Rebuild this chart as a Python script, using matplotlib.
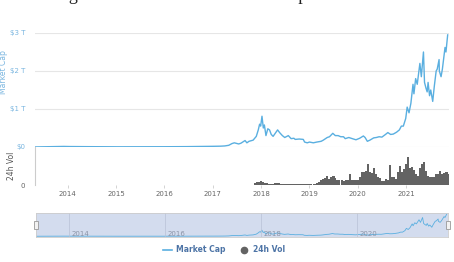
import matplotlib
matplotlib.use("Agg")
import matplotlib.pyplot as plt
import matplotlib.dates as mdates
from matplotlib.lines import Line2D
from matplotlib.patches import Rectangle
import pandas as pd

# total market cap, $ trillion
mcap_dates = [
    "2013-04-28", "2013-12-01", "2014-01-15", "2014-06-01", "2015-01-15", "2016-01-01",
    "2016-06-15", "2017-01-01", "2017-02-01", "2017-03-01", "2017-04-01", "2017-05-01",
    "2017-05-25", "2017-06-12", "2017-07-15", "2017-08-01", "2017-09-01", "2017-09-15",
    "2017-10-01", "2017-11-01", "2017-11-25", "2017-12-10", "2017-12-20", "2017-12-28",
    "2018-01-07", "2018-01-17", "2018-01-25", "2018-02-06", "2018-02-20", "2018-03-05",
    "2018-03-18", "2018-04-01", "2018-04-15", "2018-05-05", "2018-05-20", "2018-06-10",
    "2018-06-28", "2018-07-25", "2018-08-15", "2018-09-05", "2018-09-15", "2018-10-15",
    "2018-11-15", "2018-11-25", "2018-12-15", "2019-01-01", "2019-01-30", "2019-02-25",
    "2019-03-30", "2019-04-15", "2019-05-15", "2019-06-01", "2019-06-26", "2019-07-15",
    "2019-08-05", "2019-08-25", "2019-09-15", "2019-09-28", "2019-10-25", "2019-11-20",
    "2019-12-18", "2020-01-15", "2020-02-12", "2020-02-25", "2020-03-13", "2020-04-01",
    "2020-04-30", "2020-05-20", "2020-06-10", "2020-07-01", "2020-07-28", "2020-08-15",
    "2020-09-05", "2020-09-25", "2020-10-20", "2020-11-10", "2020-11-25", "2020-12-10",
    "2020-12-28", "2021-01-08", "2021-01-22", "2021-02-05", "2021-02-21", "2021-02-28",
    "2021-03-13", "2021-03-25", "2021-04-14", "2021-04-25", "2021-05-11", "2021-05-19",
    "2021-05-30", "2021-06-08", "2021-06-15", "2021-06-26", "2021-07-05", "2021-07-20",
    "2021-08-01", "2021-08-15", "2021-08-23", "2021-09-06", "2021-09-08", "2021-09-21",
    "2021-10-01", "2021-10-15", "2021-10-21", "2021-10-28", "2021-11-10",
]
mcap_vals = [
    0.0015, 0.015, 0.012, 0.009, 0.005, 0.007,
    0.010, 0.018, 0.020, 0.022, 0.028, 0.045,
    0.09, 0.11, 0.08, 0.10, 0.17, 0.11,
    0.15, 0.18, 0.28, 0.45, 0.60, 0.55,
    0.81, 0.50, 0.58, 0.30, 0.48, 0.45,
    0.33, 0.28, 0.35, 0.45, 0.38, 0.30,
    0.25, 0.30, 0.22, 0.23, 0.20, 0.21,
    0.20, 0.13, 0.11, 0.13, 0.11, 0.13,
    0.15, 0.18, 0.25, 0.27, 0.36, 0.30,
    0.30, 0.27, 0.27, 0.22, 0.25, 0.22,
    0.19, 0.23, 0.29, 0.25, 0.15, 0.18,
    0.24, 0.25, 0.27, 0.26, 0.33, 0.38,
    0.33, 0.34, 0.39, 0.45, 0.55, 0.55,
    0.75, 1.05, 0.90, 1.15, 1.65, 1.40,
    1.80, 1.65, 2.20, 1.85, 2.50, 1.70,
    1.55, 1.45, 1.70, 1.35, 1.50, 1.20,
    1.60, 2.00, 2.05, 2.30, 2.00, 1.85,
    2.05, 2.45, 2.62, 2.50, 2.95,
]

# 24h volume, $ billion, twice a month from 2017-11-15
vol_start = "2017-11-15"
vol_vals = [
    24, 42, 54, 60, 48, 36, 24, 18, 18, 18, 24, 30, 24, 18, 12, 12, 15, 12, 12, 12,
    12, 9, 9, 12, 18, 12, 12, 12, 12, 18, 18, 36, 48, 72, 96, 108, 150, 102, 120, 144,
    108, 84, 72, 72, 66, 78, 72, 180, 84, 78, 72, 84, 120, 204, 198, 216, 324, 204, 192, 270,
    180, 120, 108, 66, 60, 90, 72, 312, 132, 120, 96, 204, 300, 204, 258, 330, 444, 270, 282, 240,
    180, 150, 270, 336, 360, 228, 150, 132, 120, 120, 180, 168, 228, 180, 192, 210, 180,
]

years = ["2014", "2015", "2016", "2017", "2018", "2019", "2020", "2021"]
nav_years = ["2014", "2016", "2018", "2020"]
cap_ticks = [0, 1, 2, 3]
cap_labels = ["$0", "$1 T", "$2 T", "$3 T"]

BLUE = "#5aafe0"
GREY = "#636363"
W, H = 454, 262

fig = plt.figure(figsize=(W / 100, H / 100), dpi=100)
ax = fig.add_axes([35 / W, 1 - 147 / H, 414 / W, 114 / H])
axv = fig.add_axes([35 / W, 1 - 185 / H, 414 / W, 38 / H], sharex=ax)
axn = fig.add_axes([36 / W, 1 - 237 / H, 412 / W, 24 / H])

x_cap = pd.to_datetime(mcap_dates)
x_vol = pd.date_range(vol_start, periods=len(vol_vals), freq="SMS")
xlim = (pd.Timestamp("2013-04-28"), pd.Timestamp("2021-11-20"))

# market cap panel
ax.plot(x_cap, mcap_vals, color=BLUE, lw=1.0, zorder=3)
ax.set_ylim(0, 3.0)
ax.set_xlim(*xlim)
ax.set_yticks(cap_ticks)
ax.set_yticklabels(cap_labels)
ax.tick_params(axis="y", length=0, pad=7, labelsize=5, labelcolor="#7ab6e0")
ax.tick_params(axis="x", bottom=False, labelbottom=False)
ax.grid(axis="y", color="#e6e6e6", lw=0.8)
for s in ax.spines.values():
    s.set_visible(False)

# volume panel
axv.bar(x_vol, vol_vals, width=16, color=GREY, align="center", lw=0)
axv.set_ylim(0, 600)
axv.set_yticks([0])
axv.set_yticklabels(["0"])
axv.tick_params(axis="y", length=0, pad=7, labelsize=5, labelcolor="#666666")
axv.set_xticks(pd.to_datetime([y + "-01-01" for y in years]))
axv.xaxis.set_major_formatter(mdates.DateFormatter("%Y"))
axv.tick_params(axis="x", length=2.5, width=0.6, color="#cccccc", pad=2,
                labelsize=5, labelcolor="#666666")
for k, s in axv.spines.items():
    s.set_visible(k == "left")
axv.spines["left"].set_color("#cccccc")
axv.spines["left"].set_linewidth(0.8)

fig.text(4 / W, 1 - 72 / H, "Market Cap", rotation=90, color="#7ab6e0",
         fontsize=5.5, ha="center", va="center")
fig.text(12 / W, 1 - 166 / H, "24h Vol", rotation=90, color="#555555",
         fontsize=5.5, ha="center", va="center")

# navigator
axn.set_facecolor("#d3dcee")
axn.plot(x_cap, mcap_vals, color=BLUE, lw=0.6)
axn.set_xlim(*xlim)
axn.set_ylim(-0.1, 3.1)
axn.set_xticks([])
axn.set_yticks([])
for y in nav_years:
    t = pd.Timestamp(y + "-01-01")
    axn.axvline(t, color="#b8c2d6", lw=0.5)
    axn.text(t + pd.Timedelta(days=20), 0.25, y, fontsize=5, color="#8a93a6",
             ha="left", va="center")
for s in axn.spines.values():
    s.set_color("#cccccc")
    s.set_linewidth(0.6)
for hx in (34, 446):
    fig.add_artist(Rectangle((hx / W, 1 - 229 / H), 4 / W, 8 / H,
                             transform=fig.transFigure, fc="#f2f2f2", ec="#999999", lw=0.6))

# legend
handles = [Line2D([], [], color=BLUE, lw=1.2),
           Line2D([], [], marker="o", ls="none", color=GREY, ms=4.5)]
fig.legend(handles, ["Market Cap", "24h Vol"], loc="center",
           bbox_to_anchor=(224 / W, 1 - 250 / H), ncol=2, frameon=False,
           handlelength=1.2, columnspacing=1.8, handletextpad=0.5,
           prop={"size": 5.5, "weight": "bold"}, labelcolor="#4d74a6")

# caption cut off at the top of the image
fig.text(0.488, 1.0, "Figura 2. Valor histórico de las criptomonedas.",
         family="Liberation Serif", fontsize=13, ha="center", va="baseline",
         color="#222222")

fig.savefig("out.png", dpi=100)
